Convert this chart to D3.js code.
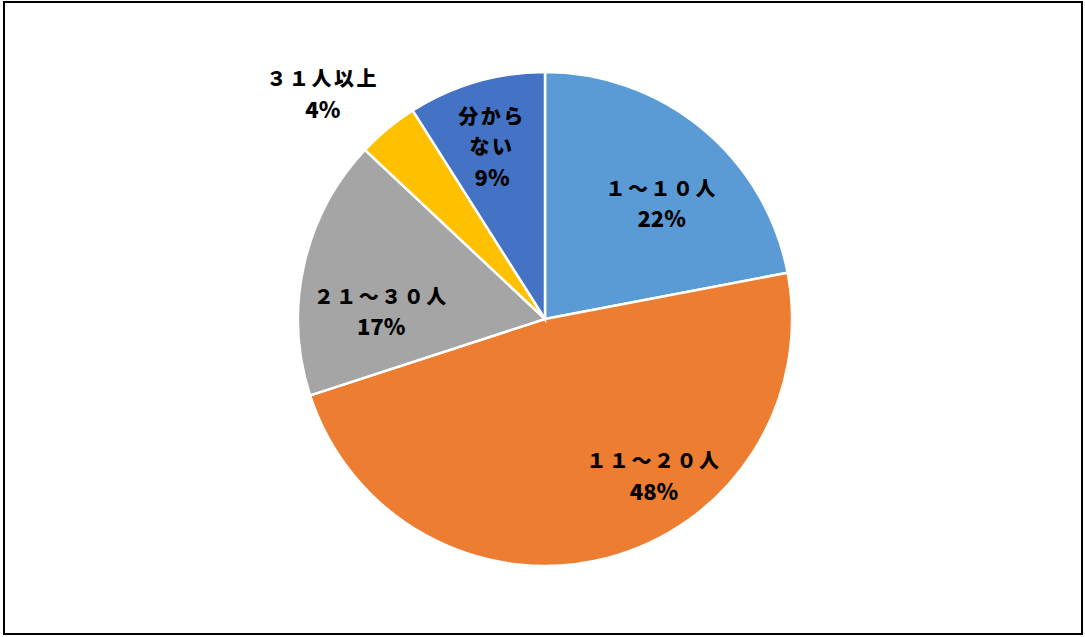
<!DOCTYPE html>
<html>
<head>
<meta charset="utf-8">
<script src="https://cdn.jsdelivr.net/npm/d3@7"></script>
<style>
  body { margin: 0; background: #fff; }
  text { font-family: "Noto Sans CJK JP", sans-serif; font-weight: 900; fill: #000; }
</style>
</head>
<body>
<svg id="chart" width="1085" height="637"></svg>
<script>
(function() {

	// slices, clockwise from 12 o'clock
	const categories = ["１～１０人", "１１～２０人", "２１～３０人", "３１人以上", "分からない"];
	const percents = [22, 48, 17, 4, 9];
	const colors = ["#5B9BD5", "#ED7D31", "#A5A5A5", "#FFC000", "#4472C4"];
	// label lines (category may be split over two lines)
	const labelLines = [["１～１０人"], ["１１～２０人"], ["２１～３０人"], ["３１人以上"], ["分から", "ない"]];

	// label placement: [angle in degrees from top, distance from center]
	const labelPlace = [[45, 165], [145, 190], [273, 164], [315.5, 317], [343, 181]];

	const width = 1085, height = 637;
	const cx = 545, cy = 319, radius = 247;

	const svg = d3.select("#chart");

	svg.append("rect")
		.attr("x", 4).attr("y", 2)
		.attr("width", width - 7).attr("height", height - 5)
		.attr("fill", "none")
		.attr("stroke", "#000")
		.attr("stroke-width", 2);

	const data = categories.map((c, i) => ({ name: c, value: percents[i], i: i }));

	const pie = d3.pie().value(d => d.value).sort(null);
	const arc = d3.arc().innerRadius(0).outerRadius(radius);

	const g = svg.append("g").attr("transform", `translate(${cx},${cy})`);

	g.selectAll("path")
		.data(pie(data))
		.join("path")
		.attr("d", arc)
		.attr("fill", d => colors[d.data.i])
		.attr("stroke", "#fff")
		.attr("stroke-width", 2.5);

	const labels = g.selectAll("g.label")
		.data(data)
		.join("g")
		.attr("class", "label")
		.attr("transform", d => {
			let a = labelPlace[d.i][0] * Math.PI / 180;
			let r = labelPlace[d.i][1];
			return `translate(${r * Math.sin(a)},${-r * Math.cos(a)})`;
		});

	labels.each(function(d) {
		let lines = labelLines[d.i].concat([d.value + "%"]);
		let lh = 30;
		let top = -(lines.length - 1) * lh / 2;
		let last = lines.length - 1;
		d3.select(this).selectAll("text")
			.data(lines)
			.join("text")
			.attr("text-anchor", "middle")
			.attr("dominant-baseline", "central")
			.attr("y", (t, k) => top + k * lh)
			.attr("font-size", (t, k) => k < last ? 20 : 22)
			.attr("letter-spacing", (t, k) => k < last ? 2.5 : 0)
			.text(t => t);
	});
})();
</script>
</body>
</html>
